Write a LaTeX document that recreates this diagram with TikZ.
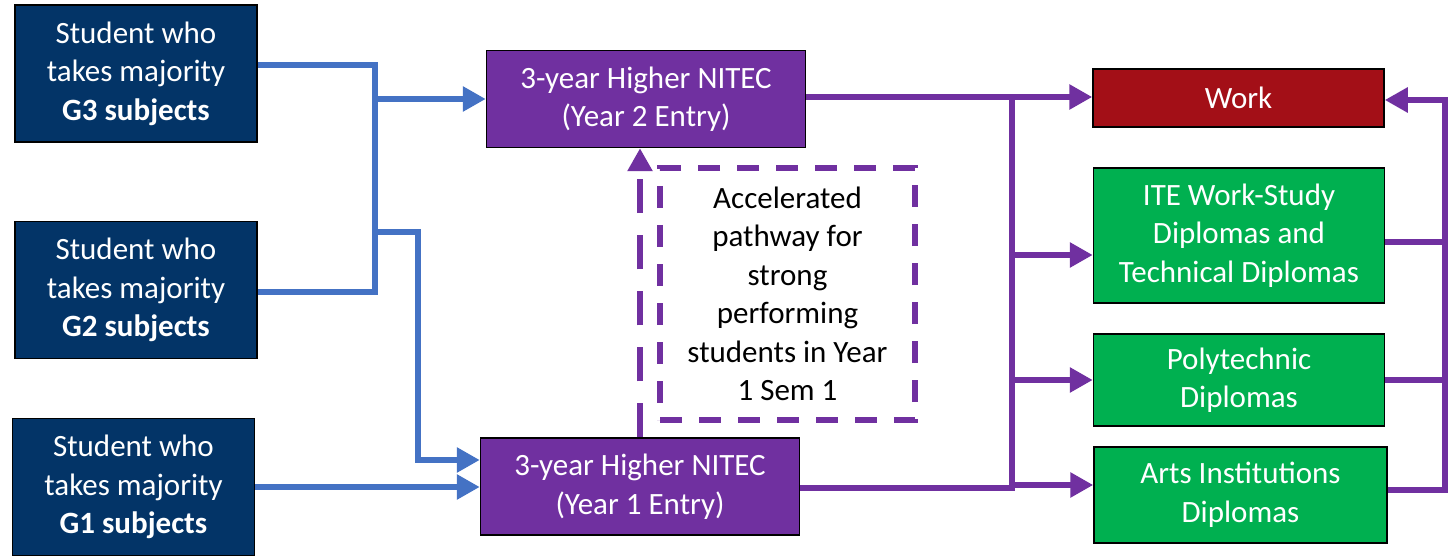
\documentclass[tikz,border=0pt]{standalone}
\usepackage{fontspec}
\setmainfont{Carlito}
\usetikzlibrary{arrows.meta}
\definecolor{navy}{RGB}{3,52,103}
\definecolor{pathpurple}{RGB}{112,48,160}
\definecolor{linkblue}{RGB}{68,114,196}
\definecolor{workred}{RGB}{163,15,23}
\definecolor{diplgreen}{RGB}{0,176,80}

\begin{document}
\begin{tikzpicture}[x=1pt, y=-1pt,
  box/.style = {draw=black, line width=1.5pt, align=center, inner sep=0pt, text=white, font=\fontsize{31}{38.5}\selectfont},
  student/.style = {box, fill=navy, minimum width=242pt, minimum height=137pt},
  nitec/.style = {box, fill=pathpurple, minimum width=319pt, minimum height=97pt},
  dest/.style = {box, fill=diplgreen, minimum width=291pt},
  note/.style = {draw=pathpurple, line width=6pt, dash pattern=on 22pt off 17pt, align=center, inner sep=0pt, minimum width=255pt, minimum height=252pt, font=\fontsize{31}{38.5}\selectfont},
  bline/.style = {draw=linkblue, line width=6pt},
  barrow/.style = {bline, -{Triangle[length=23pt,width=24pt]}},
  pline/.style = {draw=pathpurple, line width=6pt},
  parrow/.style = {pline, -{Triangle[length=23pt,width=24pt]}}]
\useasboundingbox (0,0) rectangle (1451,556);

% student groups
\node[student] (g3) at (136,73.5) {Student who\\takes majority\\\textbf{G3 subjects}};
\node[student] (g2) at (136,290) {Student who\\takes majority\\\textbf{G2 subjects}};
\node[student] (g1) at (133.5,487) {Student who\\takes majority\\\textbf{G1 subjects}};

% higher nitec
\node[nitec] (hn2) at (646,99) {3-year Higher NITEC\\(Year 2 Entry)};
\node[nitec] (hn1) at (640,486.5) {3-year Higher NITEC\\(Year 1 Entry)};
\node[note] (acc) at (787.5,294) {Accelerated\\pathway for\\strong\\performing\\students in Year\\1 Sem 1};

% destinations
\node[box, fill=workred, minimum width=291pt, minimum height=58pt] (work) at (1238.5,98) {Work};
\node[dest, minimum height=135pt] (ite) at (1239,235.5) {ITE Work-Study\\Diplomas and\\Technical Diplomas};
\node[dest, minimum height=92pt] (poly) at (1239,380) {Polytechnic\\Diplomas};
\node[dest, minimum width=293pt, minimum height=96pt] (arts) at (1240.5,495) {Arts Institutions\\Diplomas};

% junctions
\coordinate (b1) at (375,65);
\coordinate (b2) at (375,292);
\coordinate (b3) at (418,232);
\coordinate (b4) at (418,460);
\coordinate (p1) at (1012,97);
\coordinate (p2) at (1012,488);
\coordinate (p3) at (1012,255);
\coordinate (p4) at (1012,380);
\coordinate (p5) at (1012,485);
\coordinate (r1) at (1445,100);
\coordinate (r2) at (1445,490);
\coordinate (r3) at (1445,242);
\coordinate (r4) at (1445,380);

\draw[bline] (g3.east |- b1) -- (b1) -- (b2) -- (g2.east |- b2);
\draw[barrow] (b1 |- hn2.west) -- (hn2.west);
\draw[barrow] (b1 |- b3) -- (b3) -- (b4) -- (hn1.west |- b4);
\draw[barrow] (g1.east) -- (hn1.west |- g1.east);

\draw[pline, dash pattern=on 34pt off 22pt, -{Triangle[length=23pt,width=24pt]}] (hn1.north) -- (hn1.north |- hn2.south);

\draw[pline] (hn2.east |- p1) -- (p1) -- (p2) -- (hn1.east |- p2);
\draw[parrow] (p1) -- (work.west |- p1);
\draw[parrow] (p3) -- (ite.west |- p3);
\draw[parrow] (p4) -- (poly.west |- p4);
\draw[parrow] (p5) -- (arts.west |- p5);

\draw[parrow] (arts.east |- r2) -- (r2) -- (r1) -- (work.east |- r1);
\draw[pline] (ite.east |- r3) -- (r3);
\draw[pline] (poly.east |- r4) -- (r4);

\end{tikzpicture}
\end{document}
